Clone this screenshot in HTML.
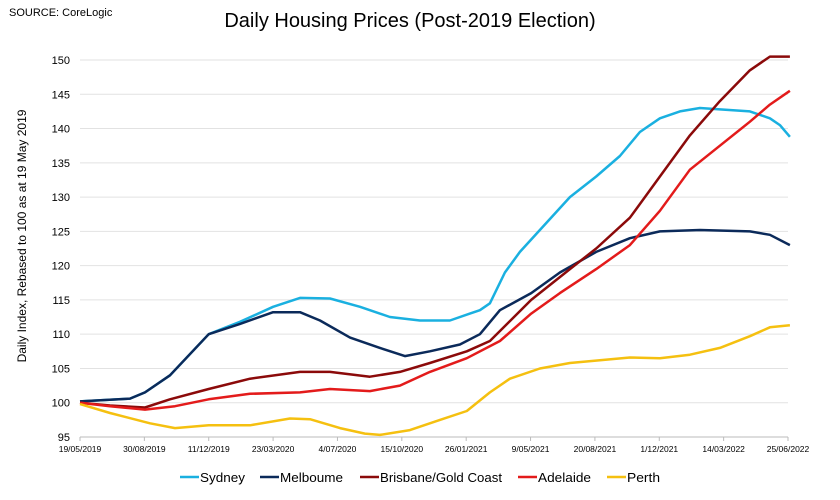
<!DOCTYPE html>
<html><head><meta charset="utf-8"><style>
body{margin:0;background:#fff;font-family:"Liberation Sans",Arial,sans-serif;}
svg text{font-family:"Liberation Sans",Arial,sans-serif;}
</style></head><body>
<svg id="c" width="840" height="495" xmlns="http://www.w3.org/2000/svg">
<text x="9" y="16" font-size="11" fill="#000">SOURCE: CoreLogic</text>
<text x="410" y="27" font-size="20" text-anchor="middle" fill="#000">Daily Housing Prices (Post-2019 Election)</text>
<text transform="translate(26,236) rotate(-90)" font-size="12" text-anchor="middle" fill="#000">Daily Index, Rebased to 100 as at 19 May 2019</text>
<g id="grid"></g><g id="lines"></g><g id="legend"></g>
</svg>
<script>
const yTicks=[95,100,105,110,115,120,125,130,135,140,145,150];
const xTickLabels=["19/05/2019","30/08/2019","11/12/2019","23/03/2020","4/07/2020","15/10/2020","26/01/2021","9/05/2021","20/08/2021","1/12/2021","14/03/2022","25/06/2022"];
const seriesNames=["Sydney","Melbourne","Brisbane/Gold Coast","Adelaide","Perth"];
const seriesColors=["#1ab0e0","#0b2a5a","#8b0a0a","#e31b1b","#f5c010"];
const sydney=[[0,100.2],[80,100.6],[104,101.5],[144,104],[206,110],[256,111.8],[309,114],[352,115.3],[400,115.2],[448,114],[496,112.5],[544,112],[592,112],[624,113],[640,113.5],[656,114.5],[680,119],[704,122],[744,126],[784,130],[826,133],[864,136],[896,139.5],[928,141.5],[960,142.5],[992,143],[1024,142.8],[1072,142.5],[1104,141.5],[1120,140.5],[1136,138.8]];
const melbourne=[[0,100.2],[80,100.6],[104,101.5],[144,104],[206,110],[256,111.5],[309,113.2],[352,113.2],[384,112],[432,109.5],[480,108],[520,106.8],[560,107.5],[608,108.5],[640,110],[672,113.5],[722,116],[768,119],[826,122],[880,124],[928,125],[992,125.2],[1072,125],[1104,124.5],[1136,123]];
const brisbane=[[0,100],[48,99.6],[104,99.3],[144,100.5],[206,102],[272,103.5],[352,104.5],[400,104.5],[464,103.8],[512,104.5],[560,105.8],[619,107.5],[656,109],[722,115],[784,119.5],[826,122.5],[880,127],[928,133],[976,139],[1024,144],[1072,148.5],[1104,150.5],[1136,150.5]];
const adelaide=[[0,100],[48,99.5],[104,99],[152,99.5],[206,100.5],[272,101.3],[352,101.5],[400,102],[464,101.7],[512,102.5],[560,104.5],[619,106.5],[672,109],[722,113],[768,116],[826,119.5],[880,123],[928,128],[976,134],[1024,137.5],[1072,141],[1104,143.5],[1136,145.5]];
const perth=[[0,99.8],[48,98.5],[112,97],[152,96.3],[206,96.7],[272,96.7],[336,97.7],[368,97.6],[416,96.3],[456,95.5],[480,95.3],[528,96],[576,97.5],[619,98.8],[656,101.5],[688,103.5],[736,105],[784,105.8],[832,106.2],[880,106.6],[928,106.5],[976,107],[1024,108],[1072,109.7],[1104,111],[1136,111.3]];
const allSeries=[sydney,melbourne,brisbane,adelaide,perth];
const NS="http://www.w3.org/2000/svg";
const X0=80,X1=788,DAYS=1133,Y0=437,Y1=60;
function xs(d){return X0+d/DAYS*(X1-X0);}
function ys(v){return Y0-(v-95)/(150-95)*(Y0-Y1);}
function mk(t,a,p){const e=document.createElementNS(NS,t);for(const k in a)e.setAttribute(k,a[k]);p.appendChild(e);return e;}
const grid=document.getElementById('grid');
yTicks.forEach(v=>{
  const l=mk('line',{x1:X0,x2:X1,y1:ys(v),y2:ys(v),stroke:v===95?'#bbb':'#e2e2e2','stroke-width':1},grid);
  
  
  const t=mk('text',{x:70,y:ys(v)+4,'font-size':11,'text-anchor':'end',fill:'#000'},grid);
  t.textContent=v;
  
  
});
xTickLabels.forEach((s,i)=>{
  const x=X0+i*(X1-X0)/(xTickLabels.length-1);
  const tk=mk('line',{x1:x,x2:x,y1:Y0,y2:Y0+4,stroke:'#bbb'},grid);
  
  
  const t=mk('text',{x:x,y:452,'font-size':8.5,'text-anchor':'middle',fill:'#000'},grid);
  t.textContent=s;
  
  
});
const lines=document.getElementById('lines');
allSeries.forEach((s,i)=>{
  const d=s.map((p,j)=>(j?'L':'M')+xs(p[0]).toFixed(1)+','+ys(p[1]).toFixed(1)).join('');
  const p=mk('path',{d:d,fill:'none',stroke:seriesColors[i],'stroke-width':2.5,'stroke-linejoin':'round'},lines);
  
  
});
const lg=document.getElementById('legend');
const lx=[180,260,360,518,607];
const lw=[45,63,122,53,33];
seriesNames.forEach((n,i)=>{
  const g=mk('g',{},lg);
  
  
  mk('line',{x1:lx[i],x2:lx[i]+19,y1:477,y2:477,stroke:seriesColors[i],'stroke-width':2.5},g);
  const t=mk('text',{x:lx[i]+20,y:482,'font-size':13,fill:'#000',textLength:lw[i],lengthAdjust:'spacingAndGlyphs'},g);
  t.textContent=n==="Melbourne"?"Melboume":n;
});
</script>
</body></html>
